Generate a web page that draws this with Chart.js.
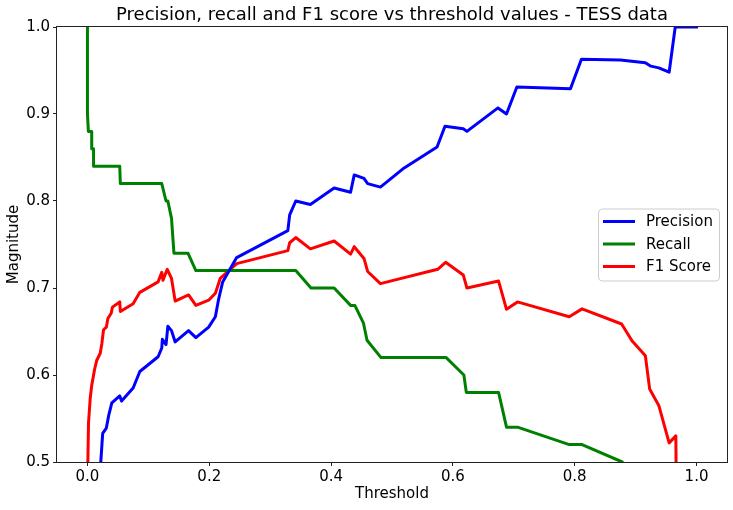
<!DOCTYPE html>
<html>
<head>
<meta charset="utf-8">
<script src="https://cdn.jsdelivr.net/npm/chart.js@4.4.0/dist/chart.umd.min.js"></script>
<style>
  body { margin: 0; background: #fff; }
  canvas { display: block; }
</style>
</head>
<body>
<canvas id="chart" width="733" height="510"></canvas>
<script>
// values
const precisionThresholds = [0.020, 0.025, 0.031, 0.035, 0.040, 0.053, 0.056, 0.075, 0.086, 0.116,
  0.122, 0.123, 0.129, 0.132, 0.138, 0.144, 0.166, 0.178, 0.199, 0.210,
  0.215, 0.222, 0.245, 0.329, 0.332, 0.342, 0.366, 0.405, 0.432, 0.438,
  0.454, 0.460, 0.481, 0.520, 0.574, 0.587, 0.617, 0.623, 0.674, 0.688,
  0.705, 0.793, 0.811, 0.875, 0.916, 0.925, 0.938, 0.955, 0.965, 1.0];
const precisionValues = [0.48, 0.533, 0.539, 0.554, 0.568, 0.576, 0.570, 0.585, 0.604, 0.621,
  0.631, 0.641, 0.635, 0.656, 0.651, 0.638, 0.651, 0.643, 0.655, 0.667,
  0.686, 0.707, 0.735, 0.766, 0.784, 0.800, 0.796, 0.815, 0.810, 0.830,
  0.826, 0.820, 0.816, 0.838, 0.862, 0.886, 0.883, 0.880, 0.907, 0.900,
  0.931, 0.929, 0.963, 0.962, 0.959, 0.955, 0.953, 0.948, 1.0, 1.0];

const recallThresholds = [0.0, 0.0, 0.0015, 0.007, 0.007, 0.010, 0.010, 0.053, 0.054, 0.122,
  0.129, 0.132, 0.138, 0.142, 0.165, 0.178, 0.342, 0.367, 0.405, 0.432,
  0.439, 0.453, 0.459, 0.482, 0.589, 0.618, 0.622, 0.675, 0.688, 0.706,
  0.791, 0.812, 0.878, 0.92, 0.96];
const recallValues = [1.0, 0.90, 0.88, 0.88, 0.86, 0.86, 0.84, 0.84, 0.82, 0.82,
  0.80, 0.80, 0.78, 0.74, 0.74, 0.72, 0.72, 0.70, 0.70, 0.68,
  0.68, 0.66, 0.64, 0.62, 0.62, 0.60, 0.58, 0.58, 0.54, 0.54,
  0.52, 0.52, 0.50, 0.44, 0.36];

const f1Thresholds = [0.0, 0.0017, 0.0045, 0.007, 0.0116, 0.0153, 0.021, 0.0236, 0.0264, 0.031,
  0.0335, 0.039, 0.041, 0.053, 0.054, 0.075, 0.086, 0.116, 0.122, 0.124,
  0.131, 0.138, 0.144, 0.166, 0.178, 0.199, 0.210, 0.218, 0.234, 0.245,
  0.329, 0.332, 0.342, 0.366, 0.405, 0.432, 0.438, 0.454, 0.460, 0.481,
  0.575, 0.588, 0.617, 0.623, 0.675, 0.688, 0.706, 0.791, 0.812, 0.877,
  0.894, 0.916, 0.923, 0.938, 0.955, 0.966, 0.967];
const f1Values = [0.47, 0.5445, 0.573, 0.588, 0.606, 0.617, 0.625, 0.636, 0.652, 0.655,
  0.665, 0.671, 0.678, 0.684, 0.673, 0.682, 0.695, 0.707, 0.718, 0.709,
  0.7215, 0.711, 0.685, 0.692, 0.680, 0.686, 0.694, 0.711, 0.721, 0.728,
  0.743, 0.752, 0.758, 0.745, 0.754, 0.739, 0.7475, 0.734, 0.719, 0.705,
  0.7215, 0.7295, 0.715, 0.700, 0.708, 0.6755, 0.684, 0.667, 0.676, 0.6586,
  0.6394, 0.622, 0.584, 0.565, 0.522, 0.530, 0.45];

const xTickValues = [0.0, 0.2, 0.4, 0.6, 0.8, 1.0];
const yTickValues = [0.5, 0.6, 0.7, 0.8, 0.9, 1.0];

const titleText = 'Precision, recall and F1 score vs threshold values - TESS data';
const FONT = "'DejaVu Sans', sans-serif";

Chart.defaults.font.family = FONT;
Chart.defaults.color = '#000';

const toPoints = (xs, ys) => xs.map((x, i) => ({ x: x, y: ys[i] }));

const lineStyle = {
  showLine: true,
  pointRadius: 0,
  borderWidth: 3,
  borderJoinStyle: 'round',
  borderCapStyle: 'square',
  clip: 0
};

// axes frame, title and legend box like matplotlib
const framePlugin = {
  id: 'frame',
  afterDatasetsDraw(chart) {
    const { ctx, chartArea: ca } = chart;
    ctx.save();
    ctx.strokeStyle = '#222';
    ctx.lineWidth = 1;
    ctx.strokeRect(ca.left - 0.5, ca.top - 0.5, ca.right - ca.left + 1, ca.bottom - ca.top + 1);
    ctx.restore();
  },
  afterDraw(chart) {
    const { ctx, chartArea: ca } = chart;
    ctx.save();
    // title
    ctx.font = '18px ' + FONT;
    ctx.fillStyle = '#000';
    ctx.textAlign = 'center';
    ctx.textBaseline = 'middle';
    ctx.fillText(titleText, (ca.left + ca.right) / 2, 15);

    // legend
    const w = 121, h = 72;
    const bx = ca.right - 8 - w;
    const by = (ca.top + ca.bottom) / 2 - h / 2;
    ctx.beginPath();
    ctx.roundRect(bx + 0.5, by + 0.5, w, h, 4);
    ctx.fillStyle = 'rgba(255,255,255,0.8)';
    ctx.fill();
    ctx.strokeStyle = '#cccccc';
    ctx.lineWidth = 1;
    ctx.stroke();
    ctx.font = '15px ' + FONT;
    ctx.textAlign = 'left';
    chart.data.datasets.forEach((ds, i) => {
      const y = by + 13 + i * 22.5;
      ctx.beginPath();
      ctx.moveTo(bx + 5, y);
      ctx.lineTo(bx + 37, y);
      ctx.strokeStyle = ds.borderColor;
      ctx.lineWidth = 3;
      ctx.stroke();
      ctx.fillStyle = '#000';
      ctx.fillText(ds.label, bx + 48, y + 1);
    });
    ctx.restore();
  }
};

new Chart(document.getElementById('chart'), {
  type: 'scatter',
  data: {
    datasets: [
      Object.assign({ label: 'Precision', data: toPoints(precisionThresholds, precisionValues), borderColor: '#0000ff', backgroundColor: '#0000ff' }, lineStyle),
      Object.assign({ label: 'Recall', data: toPoints(recallThresholds, recallValues), borderColor: '#008000', backgroundColor: '#008000' }, lineStyle),
      Object.assign({ label: 'F1 Score', data: toPoints(f1Thresholds, f1Values), borderColor: '#ff0000', backgroundColor: '#ff0000' }, lineStyle)
    ]
  },
  options: {
    responsive: false,
    animation: false,
    events: [],
    layout: { padding: { top: 27, left: 0, right: 6, bottom: 0 } },
    plugins: {
      legend: { display: false },
      title: { display: false },
      tooltip: { enabled: false }
    },
    scales: {
      x: {
        type: 'linear',
        min: -0.05,
        max: 1.05,
        afterBuildTicks: s => { s.ticks = xTickValues.map(v => ({ value: v })); },
        afterFit: s => { s.height = 48; s.paddingLeft = 0; s.paddingRight = 0; },
        grid: { drawOnChartArea: false, tickLength: 4, color: '#222' },
        border: { display: false },
        ticks: { font: { size: 15 }, padding: 2, maxRotation: 0, callback: v => v.toFixed(1) },
        title: { display: true, text: 'Threshold', font: { size: 15 }, padding: { top: 0, bottom: 7 } }
      },
      y: {
        min: 0.5,
        max: 1.0,
        afterBuildTicks: s => { s.ticks = yTickValues.map(v => ({ value: v })); },
        afterFit: s => { s.width = 57; s.paddingTop = 0; s.paddingBottom = 0; },
        grid: { drawOnChartArea: false, tickLength: 4, color: '#222' },
        border: { display: false },
        ticks: { font: { size: 15 }, padding: 3, callback: v => v.toFixed(1) },
        title: { display: true, text: 'Magnitude', font: { size: 15 }, padding: { top: 5.5, bottom: 0 } }
      }
    }
  },
  plugins: [framePlugin]
});
</script>
</body>
</html>
